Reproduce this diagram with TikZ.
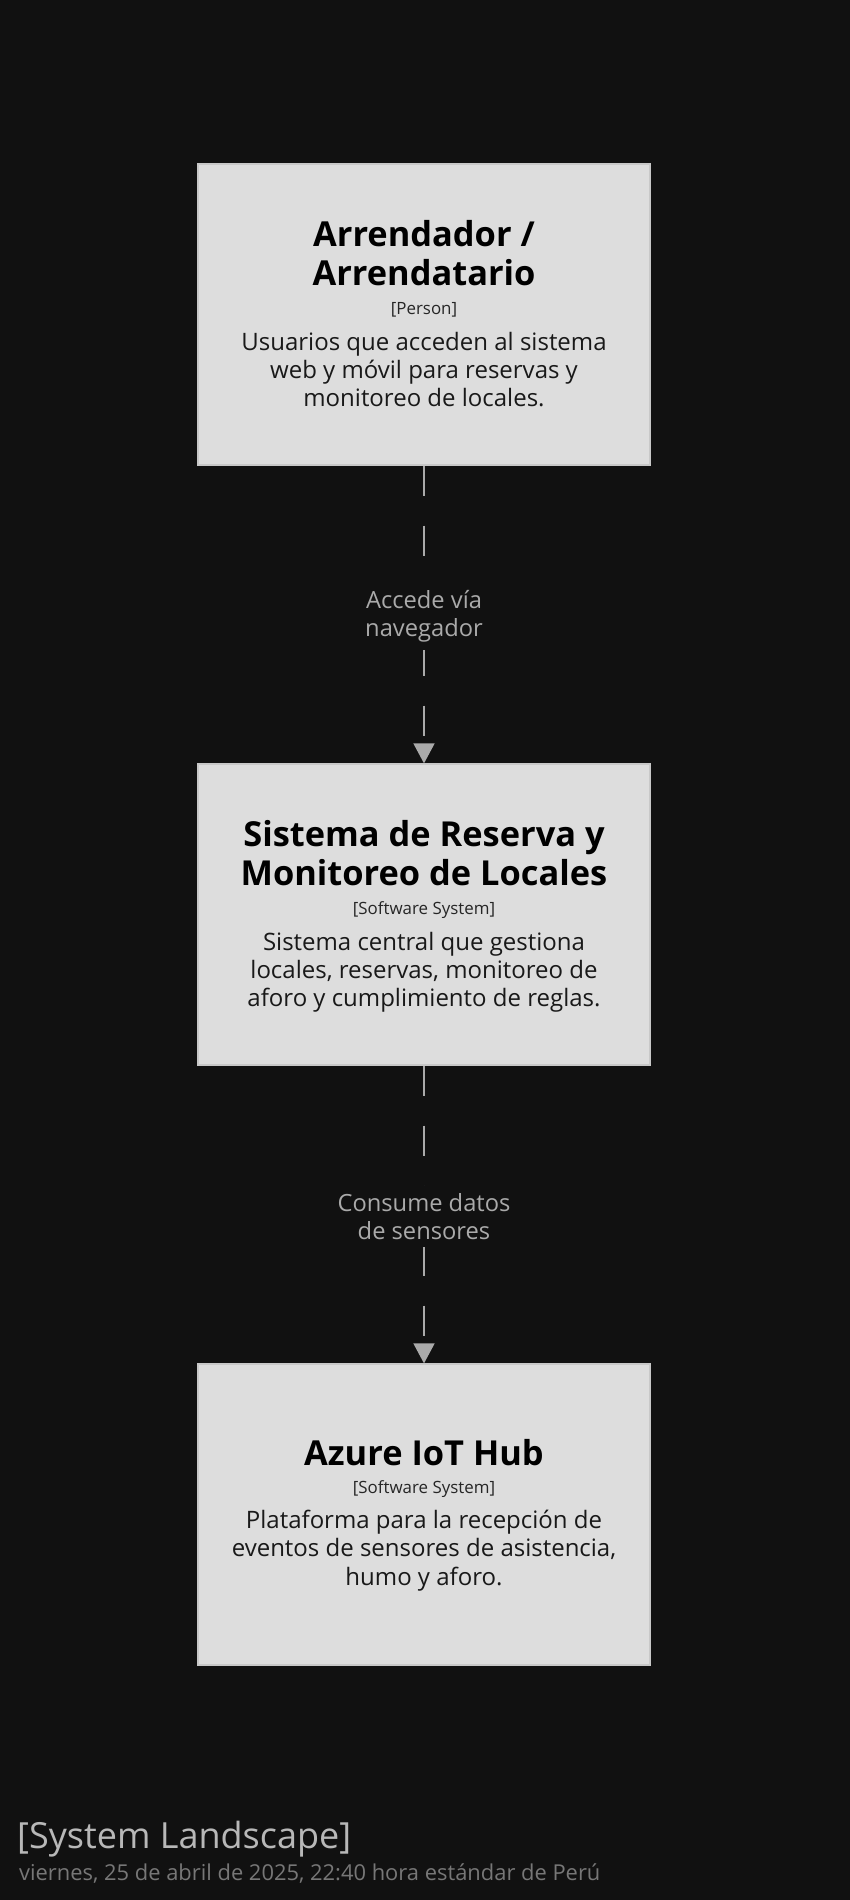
\documentclass[tikz,border=0pt]{standalone}
\usepackage{fontspec}
\setmainfont{Open Sans}
\usetikzlibrary{arrows.meta}
\definecolor{bgc}{HTML}{111111}
\definecolor{boxfill}{HTML}{DDDDDD}
\definecolor{boxline}{HTML}{C8C8C8}
\definecolor{relc}{HTML}{AAAAAA}
\definecolor{titc}{HTML}{B8B8B8}
\definecolor{datec}{HTML}{777777}
\tikzset{
  sysbox/.style={draw=boxline, fill=boxfill, line width=1.2pt, minimum width=452pt, minimum height=301pt, inner sep=0pt, rectangle},
  ttl/.style={anchor=base, inner sep=0pt, text=black, font=\fontsize{34.4}{38}\selectfont\bfseries},
  typ/.style={anchor=base, inner sep=0pt, text=black!85, font=\fontsize{16.9}{19}\selectfont},
  dsc/.style={anchor=base, inner sep=0pt, text=black!90, font=\fontsize{24}{28}\selectfont},
  rel/.style={draw=relc, line width=1.5pt, dash pattern=on 30pt off 30pt, -{Triangle[width=21pt,length=20pt,fill=relc]}},
  rlab/.style={fill=bgc, text=relc, inner xsep=2pt, inner ysep=7pt, yshift=-2pt, align=center, font=\fontsize{23.7}{28.3}\selectfont},
}
\begin{document}
\begin{tikzpicture}[x=1pt,y=-1pt]
\fill[bgc] (0,0) rectangle (850,1900);
\useasboundingbox (0,0) rectangle (850,1900);
% boxes
\node[sysbox] (p) at (424,314.5) {};
\node[sysbox] (s) at (424,914.5) {};
\node[sysbox] (a) at (424,1514.5) {};
% box 1
\node[ttl] (p1) at (424,246.7) {Arrendador /};
\node[ttl] (p2) at (424,285) {Arrendatario};
\node[typ] (p3) at (424,314) {[Person]};
\node[dsc] (p4) at (424,350) {Usuarios que acceden al sistema};
\node[dsc] (p5) at (424,378.3) {web y móvil para reservas y};
\node[dsc] (p6) at (424,406.7) {monitoreo de locales.};
% box 2
\node[ttl] (s1) at (424,846.7) {Sistema de Reserva y};
\node[ttl] (s2) at (424,885) {Monitoreo de Locales};
\node[typ] (s3) at (424,914) {[Software System]};
\node[dsc] (s4) at (424,950) {Sistema central que gestiona};
\node[dsc] (s5) at (424,978.3) {locales, reservas, monitoreo de};
\node[dsc] (s6) at (424,1006.7) {aforo y cumplimiento de reglas.};
% box 3
\node[ttl] (a1) at (424,1465) {Azure IoT Hub};
\node[typ] (a3) at (424,1493.3) {[Software System]};
\node[dsc] (a4) at (424,1528.3) {Plataforma para la recepción de};
\node[dsc] (a5) at (424,1556.7) {eventos de sensores de asistencia,};
\node[dsc] (a6) at (424,1585) {humo y aforo.};
% relations
\draw[rel] (p.south) -- (s.north) node[rlab, midway] (l1) {Accede vía\\navegador};
\draw[rel] (s.south) -- (a.north) node[rlab, midway] (l2) {Consume datos\\de sensores};
% footer
\node[anchor=base west, inner sep=0pt, text=titc, font=\fontsize{36}{40}\selectfont] (ft) at (17,1848) {[System Landscape]};
\node[anchor=base west, inner sep=0pt, text=datec, font=\fontsize{21.9}{25}\selectfont] (fd) at (19,1880) {viernes, 25 de abril de 2025, 22:40 hora estándar de Perú};
\end{tikzpicture}
\end{document}
